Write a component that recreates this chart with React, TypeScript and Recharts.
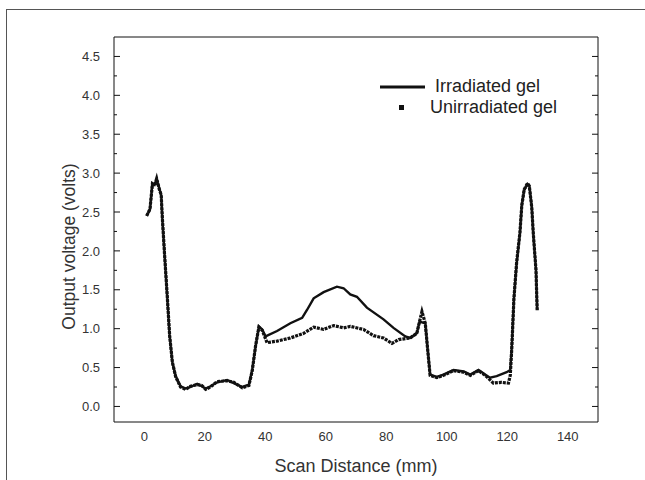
import { LineChart, Line, XAxis, YAxis, Legend } from 'recharts';

const irradiatedX = [
  0.8, 1.9, 2.7, 3.4, 4.1, 5.0, 5.6, 6.0, 6.7, 7.6, 8.4, 9.3, 10.4, 12.0, 13.7, 15.3, 17.5, 19.0,
  20.3, 21.9, 24.1, 27.4, 29.6, 32.4, 34.6, 35.7, 36.8, 37.9, 39.0, 40.1, 43.9, 48.3, 52.2, 53.8,
  56.0, 59.3, 63.7, 65.9, 68.1, 70.3, 73.6, 79.1, 82.4, 86.3, 87.9, 90.1, 91.0, 92.9, 93.6, 94.5,
  96.7, 98.9, 102.2, 105.6, 107.8, 110.5, 112.7, 114.3, 116.5, 119.8, 121.0, 121.5, 122.2, 123.1,
  124.2, 124.8, 125.6, 126.7, 127.3, 128.1, 128.6, 129.5, 129.9,
];
const irradiatedY = [
  2.45, 2.53, 2.87, 2.85, 2.92, 2.80, 2.72, 2.40, 1.97, 1.41, 0.90, 0.56, 0.39, 0.26, 0.23, 0.25, 0.29, 0.26,
  0.23, 0.26, 0.31, 0.34, 0.30, 0.25, 0.28, 0.47, 0.77, 1.03, 0.99, 0.90, 0.97, 1.07, 1.14, 1.24,
  1.39, 1.47, 1.54, 1.52, 1.44, 1.41, 1.27, 1.12, 1.01, 0.90, 0.88, 0.94, 1.09, 1.07, 0.77, 0.41,
  0.38, 0.41, 0.47, 0.45, 0.41, 0.47, 0.41, 0.37, 0.39, 0.44, 0.47, 0.77, 1.39, 1.84,
  2.23, 2.59, 2.78, 2.86, 2.84, 2.57, 2.22, 1.76, 1.24,
];

const unirradiatedX = [
  0.8, 1.9, 2.7, 3.4, 4.1, 5.0, 5.6, 6.0, 6.7, 7.6, 8.4, 9.3, 10.4, 12.0, 13.7, 15.3, 17.5, 19.0,
  20.3, 21.9, 24.1, 27.4, 29.6, 32.4, 34.6, 35.7, 36.8, 37.9, 39.0, 40.6, 43.9, 48.3, 52.7, 56.0,
  59.3, 62.6, 65.9, 68.1, 72.5, 75.8, 79.1, 81.9, 84.1, 87.9, 90.1, 91.0, 91.8, 92.9, 93.6, 94.5,
  96.7, 98.9, 102.2, 105.6, 107.8, 110.5, 112.7, 115.4, 118.0, 120.4, 121.0, 121.5, 122.2, 123.1,
  124.2, 124.8, 125.6, 126.7, 127.3, 128.1, 128.6, 129.5, 129.9,
];
const unirradiatedY = [
  2.45, 2.54, 2.86, 2.84, 2.93, 2.79, 2.72, 2.41, 1.96, 1.42, 0.91, 0.57, 0.38, 0.25, 0.22, 0.26, 0.28, 0.27,
  0.22, 0.25, 0.32, 0.33, 0.31, 0.24, 0.27, 0.46, 0.78, 1.02, 0.98, 0.82, 0.84, 0.88, 0.94, 1.02,
  0.99, 1.04, 1.01, 1.03, 0.99, 0.91, 0.88, 0.81, 0.86, 0.88, 0.94, 1.09, 1.22, 1.07, 0.77, 0.40,
  0.37, 0.40, 0.46, 0.44, 0.40, 0.46, 0.40, 0.30, 0.31, 0.30, 0.40, 0.75, 1.38, 1.85,
  2.24, 2.58, 2.79, 2.87, 2.83, 2.56, 2.23, 1.75, 1.23,
];

const xMajorTicks = [0, 20, 40, 60, 80, 100, 120, 140];
const xMinorTicks = [10, 30, 50, 70, 90, 110, 130];
const yMajorTicks = [0, 0.5, 1.0, 1.5, 2.0, 2.5, 3.0, 3.5, 4.0, 4.5];
const yMinorTicks = [0.25, 0.75, 1.25, 1.75, 2.25, 2.75, 3.25, 3.75, 4.25];

const xDomain = [-10, 150];
const yDomain = [-0.2, 4.75];

const irradiated = irradiatedX.map((x, i) => ({ x, v: irradiatedY[i] }));
const unirradiated = unirradiatedX.map((x, i) => ({ x, v: unirradiatedY[i] }));

const FONT = '"Liberation Sans", Arial, sans-serif';
const INK = '#111';

const xAllTicks = [...xMajorTicks, ...xMinorTicks].sort((a, b) => a - b);
const yAllTicks = [...yMajorTicks, ...yMinorTicks].sort((a, b) => a - b);
const isMajorX = (v: number) => xMajorTicks.includes(v);
const isMajorY = (v: number) => yMajorTicks.includes(v);

// inward tick marks, drawn from the axis line
function markTick(side: 'b' | 't' | 'l' | 'r') {
  return (p: any) => {
    const v = p.payload.value;
    const len = (side === 'b' || side === 't' ? isMajorX(v) : isMajorY(v)) ? 6 : 3;
    const { x, y } = p;
    if (side === 'b') return <line x1={x} y1={y} x2={x} y2={y - len} stroke={INK} />;
    if (side === 't') return <line x1={x} y1={y} x2={x} y2={y + len} stroke={INK} />;
    if (side === 'l') return <line x1={x} y1={y} x2={x + len} y2={y} stroke={INK} />;
    return <line x1={x} y1={y} x2={x - len} y2={y} stroke={INK} />;
  };
}

function LegendBox() {
  return (
    <div style={{ fontFamily: FONT, fontSize: 18, color: '#222', lineHeight: '21px' }}>
      <div style={{ display: 'flex', alignItems: 'center' }}>
        <svg width={50} height={21}>
          <line x1={2} y1={11} x2={47} y2={11} stroke={INK} strokeWidth={3} />
        </svg>
        <span style={{ marginLeft: 7 }}>Irradiated gel</span>
      </div>
      <div style={{ display: 'flex', alignItems: 'center' }}>
        <svg width={50} height={21}>
          <rect x={21} y={8} width={5} height={5} fill={INK} />
        </svg>
        <span style={{ marginLeft: 2 }}>Unirradiated gel</span>
      </div>
    </div>
  );
}

export default function App() {
  const tickStyle = { fill: '#333', fontSize: 13, fontFamily: FONT };
  return (
    <div style={{ position: 'absolute', left: 0, top: 0, width: 645, height: 480, background: '#fff', overflow: 'hidden' }}>
      <div style={{ position: 'absolute', left: 6, top: 9, width: 700, height: 520, border: '1px solid #555' }} />
      <div style={{ position: 'absolute', left: 0, top: 0 }}>
        <LineChart width={645} height={480} margin={{ top: 37, right: 47, bottom: 6, left: 0 }}>
          <XAxis
            dataKey="x" type="number" domain={xDomain} allowDataOverflow ticks={xMajorTicks} interval={0}
            height={52} axisLine={false} tickLine={false} tickSize={6} tickMargin={4} tick={tickStyle}
            label={{
              content: ({ viewBox }: any) => (
                <text x={viewBox.x + viewBox.width / 2} y={472} textAnchor="middle"
                  style={{ fontFamily: FONT, fontSize: 18, fill: '#333' }}>Scan Distance (mm)</text>
              ),
            }}
          />
          <YAxis
            type="number" domain={yDomain} allowDataOverflow ticks={yMajorTicks} interval={0}
            width={114} axisLine={false} tickLine={false} tickSize={6} tickMargin={8} tick={tickStyle}
            tickFormatter={(v: number) => v.toFixed(1)}
            label={{
              content: ({ viewBox }: any) => {
                const cx = 69;
                const cy = viewBox.y + viewBox.height / 2 + 17;
                return (
                  <text x={cx} y={cy} transform={`rotate(-90, ${cx}, ${cy})`} textAnchor="middle"
                    dominantBaseline="central" style={{ fontFamily: FONT, fontSize: 17.5, fill: '#333' }}>
                    Output voltage (volts)
                  </text>
                );
              },
            }}
          />
          <XAxis xAxisId="b" type="number" domain={xDomain} allowDataOverflow orientation="bottom" mirror
            ticks={xAllTicks} interval={0} tickLine={false} tickSize={0} tickMargin={0}
            axisLine={{ stroke: INK }} tick={markTick('b')} height={1} />
          <XAxis xAxisId="t" type="number" domain={xDomain} allowDataOverflow orientation="top" mirror
            ticks={xAllTicks} interval={0} tickLine={false} tickSize={0} tickMargin={0}
            axisLine={{ stroke: INK }} tick={markTick('t')} height={1} />
          <YAxis yAxisId="l" type="number" domain={yDomain} allowDataOverflow orientation="left" mirror
            ticks={yAllTicks} interval={0} tickLine={false} tickSize={0} tickMargin={0}
            axisLine={{ stroke: INK }} tick={markTick('l')} width={1} />
          <YAxis yAxisId="r" type="number" domain={yDomain} allowDataOverflow orientation="right" mirror
            ticks={yAllTicks} interval={0} tickLine={false} tickSize={0} tickMargin={0}
            axisLine={{ stroke: INK }} tick={markTick('r')} width={1} />
          <Legend layout="vertical" align="center" verticalAlign="middle"
            wrapperStyle={{ left: 378, top: 76, width: 220 }} content={() => <LegendBox />} />
          <Line data={unirradiated} dataKey="v" type="linear" stroke={INK} strokeWidth={3.2}
            strokeDasharray="3 1" dot={false} isAnimationActive={false} />
          <Line data={irradiated} dataKey="v" type="linear" stroke={INK} strokeWidth={2.4}
            dot={false} isAnimationActive={false} />
        </LineChart>
      </div>
    </div>
  );
}
